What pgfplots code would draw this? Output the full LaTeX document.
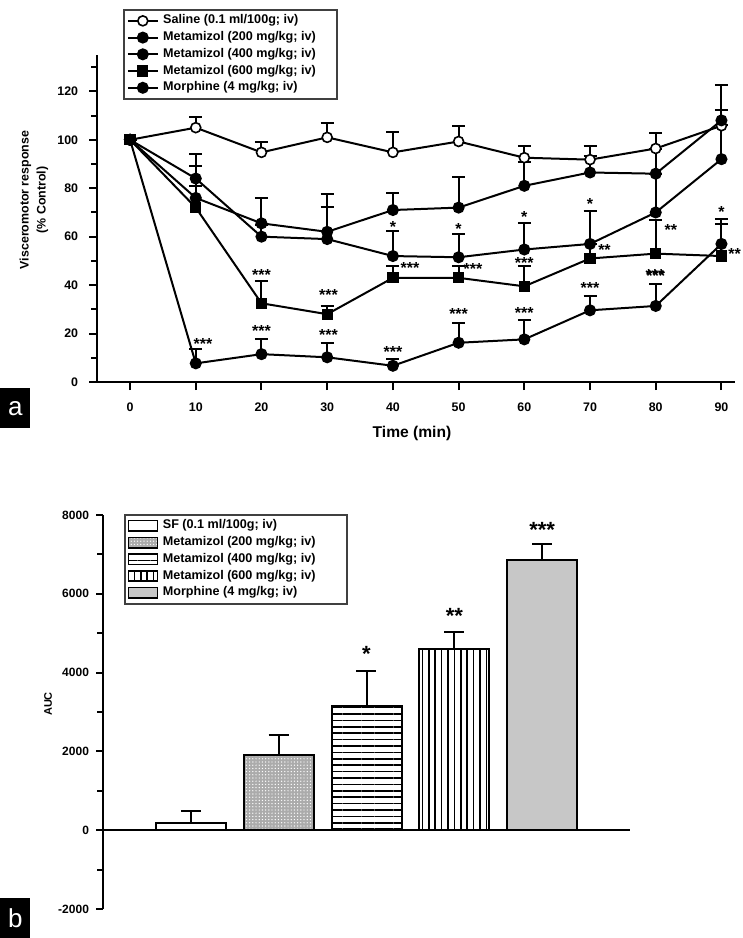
\documentclass[border=0pt]{standalone}
\usepackage{fontspec}
\setmainfont{Liberation Sans}
\usepackage{pgfplots}
\usepackage{pgfplotstable}
\pgfplotsset{compat=1.18}
\usetikzlibrary{patterns.meta}

\pgfplotstableread{
x y e
0 100 0
10 105 4.6
20 94.8 4.4
30 101 6
40 94.8 8.5
50 99.3 6.2
60 92.6 5
70 91.8 5.7
80 96.4 6.6
90 105.8 6.5
}\saline
\pgfplotstableread{
x y e
0 100 0
10 76 13
20 65.5 10.5
30 62 15.8
40 71 7.2
50 72 12.5
60 81 10
70 86.5 7
80 86 10
90 108 14.6
}\metA
\pgfplotstableread{
x y e
0 100 0
10 84 10.2
20 60 5
30 59 13.4
40 52 10.3
50 51.5 9.8
60 54.7 10.8
70 57 13.8
80 70 16
90 92 14
}\metB
\pgfplotstableread{
x y e
0 100 0
10 72 9
20 32.5 9.2
30 28 3.4
40 43 5
50 43 5
60 39.5 8.5
70 51 6
80 53 13.7
90 52 13.4
}\metC
\pgfplotstableread{
x y e
0 100 0
10 7.7 5.9
20 11.5 6.2
30 10.2 5.7
40 6.7 2.8
50 16.2 8.2
60 17.6 7.9
70 29.6 5.9
80 31.4 9.2
90 57 10.5
}\morph

\pgfplotsset{
 ln/.style={black, line width=1pt, mark size=2.5pt,
   error bars/y dir=plus, error bars/y explicit,
   error bars/error bar style={line width=1pt, black},
   error bars/error mark options={rotate=90, mark size=3.25pt, line width=1pt, black}},
 br/.style={ybar, bar width=35pt, bar shift=0pt, draw=black, line width=1pt,
   legend image code/.code={\draw[##1, line width=0.8pt] (0pt,-2.6pt) rectangle (14.5pt,2.6pt);},
   error bars/y dir=plus, error bars/y explicit,
   error bars/error bar style={line width=1pt, black},
   error bars/error mark options={rotate=90, mark size=5pt, line width=1pt, black}},
}

\begin{document}
\begin{tikzpicture}
\useasboundingbox (0,0) rectangle (371.5pt,-469pt);
\tikzset{st/.style={font=\bfseries\fontsize{8}{8}\selectfont, inner sep=0pt, yshift=-1.7pt},
         stb/.style={font=\bfseries\fontsize{11}{11}\selectfont, inner sep=0pt, yshift=-2.3pt}}
\begin{axis}[
 at={(48.6pt,-191pt)}, anchor=south west,
 scale only axis, width=318.7pt, height=163.5pt,
 xmin=-5, xmax=92, ymin=0, ymax=135,
 axis x line*=bottom, axis y line*=left,
 axis line style={line width=1.2pt,-},
 xtick={0,10,...,90}, ytick={0,20,...,120}, minor ytick={10,30,...,130},
 tick align=outside, major tick length=4pt, minor tick length=3pt,
 tick style={black, line width=1pt},
 /pgf/number format/assume math mode=true,
 ticklabel style={font=\bfseries\fontsize{6.2}{7}\selectfont},
 xticklabel style={yshift=-3pt},
 yticklabel style={xshift=-2pt},
 legend style={at={(0.0405,1.1407)}, anchor=north west, draw=black!75, line width=0.8pt,
   font=\bfseries\fontsize{6.3}{7.5}\selectfont, inner sep=1.5pt, row sep=0.3pt,
   nodes={inner xsep=2.2pt, inner ysep=1pt}, cells={anchor=west}},
 legend image code/.code={\draw[mark repeat=2,mark phase=2,#1] plot coordinates {(0pt,0pt)(7.5pt,0pt)(15pt,0pt)};},
 clip=false,
]
\addplot[ln, mark=*, mark options={fill=white, line width=0.8pt}] table[x=x,y=y,y error=e]{\saline};
\addlegendentry{Saline (0.1 ml/100g; iv)}
\addplot[ln, mark=*, mark options={fill=black}] table[x=x,y=y,y error=e]{\metA};
\addlegendentry{Metamizol (200 mg/kg; iv)\hspace*{7pt}}
\addplot[ln, mark=*, mark options={fill=black}] table[x=x,y=y,y error=e]{\metB};
\addlegendentry{Metamizol (400 mg/kg; iv)}
\addplot[ln, mark=square*, mark size=2.3pt, mark options={fill=black}] table[x=x,y=y,y error=e]{\metC};
\addlegendentry{Metamizol (600 mg/kg; iv)}
\addplot[ln, mark=*, mark options={fill=black}] table[x=x,y=y,y error=e]{\morph};
\addlegendentry{Morphine (4 mg/kg; iv)}
% significance marks
\node[st] at (axis cs:11.1,17.3) {***};
\node[st] at (axis cs:20,22.6) {***};
\node[st] at (axis cs:30.2,20.7) {***};
\node[st] at (axis cs:40,14) {***};
\node[st] at (axis cs:50,29.6) {***};
\node[st] at (axis cs:60,30) {***};
\node[st] at (axis cs:70,40.3) {***};
\node[st] at (axis cs:80,45) {***};
\node[st] at (axis cs:20,45.4) {***};
\node[st] at (axis cs:30.2,37.2) {***};
\node[st] at (axis cs:42.6,48.6) {***};
\node[st] at (axis cs:52.2,48.2) {***};
\node[st] at (axis cs:60,50.5) {***};
\node[st] at (axis cs:79.9,45.4) {***};
\node[st] at (axis cs:72.2,55.7) {**};
\node[st] at (axis cs:82.3,64) {**};
\node[st] at (axis cs:92,54.3) {**};
\node[st] at (axis cs:40,65.5) {*};
\node[st] at (axis cs:50,64.6) {*};
\node[st] at (axis cs:60,69.5) {*};
\node[st] at (axis cs:70,74.9) {*};
\node[st] at (axis cs:90,71.5) {*};
\end{axis}
\node[rotate=90, align=center, font=\bfseries\fontsize{6.2}{8.5}\selectfont] at (17pt,-100pt) {Visceromotor response\\(\% Control)};
\node[font=\bfseries\fontsize{7.8}{8}\selectfont] at (206pt,-216.5pt) {Time (min)};
\node[fill=black, text=white, minimum width=15pt, minimum height=20pt, inner sep=0pt, anchor=north west, font=\fontsize{13}{13}\selectfont] at (0pt,-194pt) {a};

\begin{axis}[
 at={(51.5pt,-454.5pt)}, anchor=south west,
 scale only axis, width=263.5pt, height=197pt,
 xmin=0, xmax=6, ymin=-2000, ymax=8000,
 axis y line*=left, axis x line*=middle,
 axis line style={line width=1.2pt,-},
 xtick=\empty,
 ytick={-2000,0,2000,4000,6000,8000},
 yticklabels={-2000,0,2000,4000,6000,8000},
 minor ytick={-1000,1000,3000,5000,7000},
 tick align=outside, major tick length=3.5pt, minor tick length=3pt,
 tick style={black, line width=1pt},
 ticklabel style={font=\bfseries\fontsize{6}{7}\selectfont},
 legend style={at={(0.04,1.0025)}, anchor=north west, draw=black!75, line width=0.8pt,
   font=\bfseries\fontsize{6.3}{7.5}\selectfont, inner sep=1.5pt, row sep=0.3pt,
   nodes={inner xsep=2.2pt, inner ysep=1pt}, cells={anchor=west}},
 clip=false,
]
\addplot[br, fill=white] coordinates {(1,180) +- (0,300)};
\addlegendentry{SF (0.1 ml/100g; iv)}
\addplot[br, fill=black!33, postaction={pattern={Dots[distance=1.6pt,radius=0.35pt]}, pattern color=white}] coordinates {(2,1920) +- (0,505)};
\addlegendentry{Metamizol (200 mg/kg; iv)\hspace*{12pt}}
\addplot[br, pattern={Lines[angle=0,distance=3.2pt,line width=0.8pt]}] coordinates {(3,3150) +- (0,885)};
\addlegendentry{Metamizol (400 mg/kg; iv)}
\addplot[br, pattern={Lines[angle=90,distance=3.2pt,line width=0.8pt]}] coordinates {(4,4610) +- (0,410)};
\addlegendentry{Metamizol (600 mg/kg; iv)}
\addplot[br, fill=black!22] coordinates {(5,6860) +- (0,400)};
\addlegendentry{Morphine (4 mg/kg; iv)}
\node[stb] at (axis cs:3,4593) {*};
\node[stb] at (axis cs:4,5552) {**};
\node[stb] at (axis cs:5,7750) {***};
\end{axis}
\node[rotate=90, font=\bfseries\fontsize{5.5}{6}\selectfont] at (24pt,-352pt) {AUC};
\node[fill=black, text=white, minimum width=15pt, minimum height=20pt, inner sep=0pt, anchor=north west, font=\fontsize{13}{13}\selectfont] at (0pt,-449pt) {b};
\end{tikzpicture}
\end{document}
